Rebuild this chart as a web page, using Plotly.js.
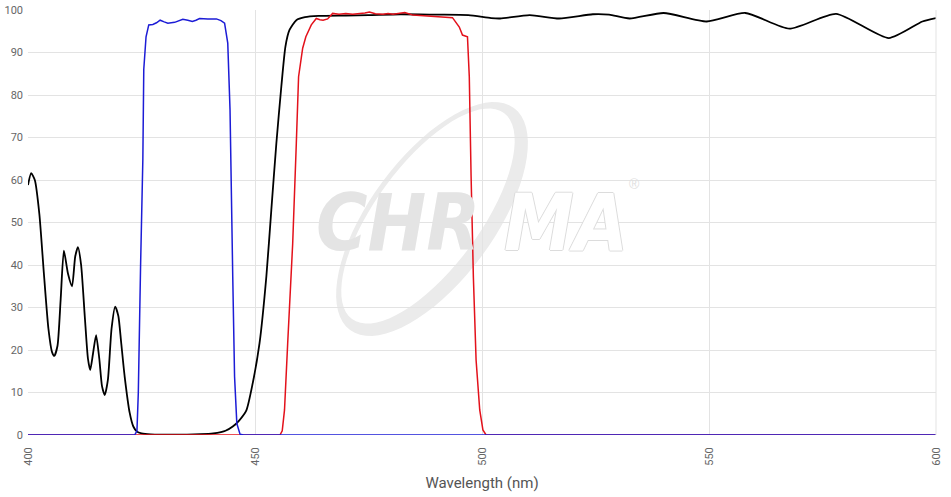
<!DOCTYPE html>
<html>
<head>
<meta charset="utf-8">
<script src="https://cdn.plot.ly/plotly-3.0.1.min.js"></script>
<style>html,body{margin:0;padding:0;background:#fff;}#chart{width:951px;height:497px;}</style>
</head>
<body>
<div id="chart"></div>
<script>
// ---- data ----
const xTickVals = [400, 450, 500, 550, 600];
const yTickVals = [0, 10, 20, 30, 40, 50, 60, 70, 80, 90, 100];

const emitterX = [400, 400.7, 401.5, 402.5, 403.5, 404.5, 405.3, 405.8, 406.5, 407.2, 407.9, 408.8, 409.7, 410.4, 411, 411.7, 412.5, 413.2, 413.7, 414.3, 415, 415.7, 416.3, 416.9, 417.6, 418.4, 419.2, 419.9, 420.5, 421.3, 422.4, 423.2, 424, 425, 427, 430, 435, 438, 440.8, 442.5, 443.5, 445.1, 446.5, 448.1, 449.5, 451, 452.5, 453.6, 454.7, 455.8, 456.7, 457.6, 459.1, 461, 464, 470, 475, 482, 490, 497, 502, 504, 510.5, 517, 524.4, 528, 532.5, 540, 549.5, 558, 567.7, 578, 589.6, 597, 600];
const emitterY = [58.8, 61.6, 60, 52, 38, 25, 19.5, 18.6, 21, 32, 43.4, 38, 35, 42, 44.2, 40, 28, 18, 15.3, 19, 23.5, 18, 11.5, 9.4, 13, 25, 30.2, 28, 22, 13.7, 5.2, 2, 0.8, 0.4, 0.15, 0.1, 0.1, 0.2, 0.4, 0.7, 1.0, 2.0, 3.4, 5.8, 12.2, 21.6, 37.3, 53, 68.6, 82, 91.4, 95.3, 97.6, 98.3, 98.6, 98.7, 98.8, 99, 98.9, 98.8, 98.1, 98.0, 98.8, 98.0, 99.0, 98.9, 98.0, 99.3, 97.3, 99.3, 95.6, 99.1, 93.4, 97.3, 98.1];

const excitationX = [400, 423.5, 424.0, 424.3, 424.8, 425.3, 425.5, 426.0, 426.6, 427.5, 428.3, 429.1, 430, 430.8, 432.3, 433.2, 434.1, 435.2, 436.2, 437, 437.8, 439.6, 441.5, 442.5, 443.3, 444, 444.5, 445.1, 445.5, 446, 446.7, 447.5, 600];
const excitationY = [0, 0, 1, 10, 40, 65, 86, 93.7, 96.5, 96.6, 97, 97.6, 97.2, 96.9, 97.1, 97.5, 97.8, 97.6, 97.3, 97.6, 98, 97.9, 97.9, 97.5, 96.9, 92.2, 76.5, 37.2, 13.7, 2.7, 0.2, 0, 0];

const dichroicX = [400, 455.5, 456, 456.5, 457.2, 458.3, 459.1, 459.6, 460.5, 461.2, 462.4, 463.5, 464.3, 465, 466, 467.1, 468.5, 470, 471.5, 473, 474.2, 475.2, 476.5, 478.2, 479.3, 480.4, 481.8, 483, 484.8, 486.5, 488.5, 491.4, 493.5, 495, 495.7, 496.8, 497.2, 497.6, 498.1, 498.7, 499.5, 500.2, 500.9, 600];
const dichroicY = [0, 0, 1, 5.9, 21.6, 45, 68.6, 84.3, 91, 93.7, 96.5, 98, 97.7, 97.6, 97.9, 99.2, 99.0, 99.2, 99.0, 99.1, 99.3, 99.5, 99.1, 99, 99.2, 99, 99.3, 99.4, 98.8, 98.7, 98.6, 98.4, 98.2, 96, 94.1, 93.7, 84.3, 60.8, 37.2, 17.6, 5.9, 1.2, 0, 0];

// ---- watermark ellipse (decoration, pixel geometry -> paper coords) ----
const plotL = 28, plotR = 936, plotT = 10, plotB = 435;
function toPaper(px, py) {
  return [(px - plotL) / (plotR - plotL), (plotB - py) / (plotB - plotT)];
}
function ellipsePath(cx, cy, a, b, angDeg, reverse) {
  const th = angDeg * Math.PI / 180, n = 72;
  let pts = [];
  for (let i = 0; i < n; i++) {
    const t = (reverse ? -1 : 1) * 2 * Math.PI * i / n;
    const ex = a * Math.cos(t), ey = b * Math.sin(t);
    const px = cx + ex * Math.cos(th) - ey * Math.sin(th);
    const py = cy + ex * Math.sin(th) + ey * Math.cos(th);
    const p = toPaper(px, py);
    pts.push((i === 0 ? 'M' : 'L') + p[0].toFixed(5) + ',' + p[1].toFixed(5));
  }
  return pts.join(' ') + ' Z';
}
const ang = -53.6;
const perp = [-0.805, -0.593];
const ringPath = ellipsePath(432, 219, 138, 62, ang, false) + ' ' +
  ellipsePath(432 + 5 * perp[0], 219 + 5 * perp[1], 128, 52, ang, true);

const lineW = 1.8;
const traces = [
  {x: emitterX, y: emitterY, type: 'scatter', mode: 'lines', name: 'Emitter',
   line: {color: '#000000', width: lineW, shape: 'spline', smoothing: 0.6}, hoverinfo: 'skip'},
  {x: dichroicX, y: dichroicY, type: 'scatter', mode: 'lines', name: 'Dichroic',
   line: {color: '#e3111b', width: 1.5}, hoverinfo: 'skip'},
  {x: excitationX, y: excitationY, type: 'scatter', mode: 'lines', name: 'Excitation',
   line: {color: '#1c1cd6', width: 1.5}, hoverinfo: 'skip'}
];

const wmFont = 'Liberation Sans Narrow, DejaVu Sans Condensed, Liberation Sans, sans-serif';
const layout = {
  width: 951, height: 497,
  margin: {l: plotL, r: 951 - plotR, t: plotT, b: 497 - plotB, pad: 0},
  paper_bgcolor: '#ffffff', plot_bgcolor: '#ffffff',
  showlegend: false,
  font: {family: 'Roboto, Arial, sans-serif', color: '#666666', size: 11},
  xaxis: {
    range: [400, 600], tickvals: xTickVals, ticktext: xTickVals.map(String),
    tickangle: -90, showgrid: true, gridcolor: '#e3e3e3', gridwidth: 1,
    zeroline: false, showline: false, ticks: '', automargin: false,
    tickfont: {size: 11, color: '#666666'}, ticklabelstandoff: 9,
    title: {text: 'Wavelength (nm)', font: {size: 15, color: '#555555'}, standoff: 12}
  },
  yaxis: {
    range: [0, 100], tickvals: yTickVals, ticktext: yTickVals.map(String),
    showgrid: true, gridcolor: '#e3e3e3', gridwidth: 1,
    zeroline: false, showline: false, ticks: '', automargin: false,
    tickfont: {size: 11, color: '#666666'}, ticklabelstandoff: 4
  },
  shapes: [
    {type: 'path', xref: 'paper', yref: 'paper', path: ringPath, layer: 'below',
     fillcolor: '#ebebeb', line: {width: 0}},
    {type: 'line', xref: 'paper', yref: 'paper', x0: 1, x1: 1, y0: 0, y1: 1,
     line: {color: '#e3e3e3', width: 1}}
  ],
  annotations: [
    {xref: 'paper', yref: 'paper', x: 0.408, y: 0.50, text: 'CHR', showarrow: false,
     font: {family: wmFont, size: 78, color: '#e4e4e4', weight: 'bold', style: 'italic'}},
    {xref: 'paper', yref: 'paper', x: 0.592, y: 0.50, text: 'MA', showarrow: false,
     font: {family: wmFont, size: 78, color: '#ffffff', weight: 'bold', style: 'italic',
            shadow: '1px 0 0 #dcdcdc, -1px 0 0 #dcdcdc, 0 1px 0 #dcdcdc, 0 -1px 0 #dcdcdc'}},
    {xref: 'paper', yref: 'paper', x: 0.676, y: 0.59, text: '®', showarrow: false,
     font: {family: 'Liberation Sans, sans-serif', size: 14, color: '#e0e0e0'}}
  ]
};

Plotly.newPlot('chart', traces, layout, {staticPlot: true, displayModeBar: false});
</script>
</body>
</html>
